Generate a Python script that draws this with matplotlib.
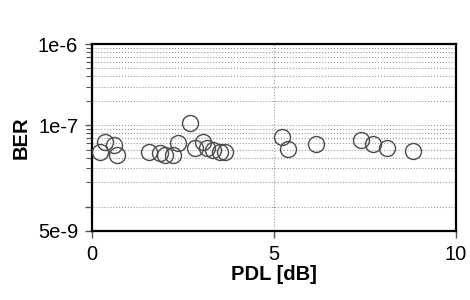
import numpy as np
import matplotlib.pyplot as plt
from matplotlib.ticker import FixedLocator, NullFormatter

plt.rcParams['font.family'] = ['Liberation Sans', 'DejaVu Sans']

# measured points
pdl = [0.22, 0.36, 0.59, 0.68, 1.55, 1.87, 2.01, 2.23, 2.37, 2.69, 2.83, 3.06,
       3.15, 3.33, 3.52, 3.65, 5.21, 5.39, 6.15, 7.39, 7.73, 8.10, 8.83]
ber = [4.73e-8, 6.28e-8, 5.73e-8, 4.31e-8, 4.73e-8, 4.53e-8, 4.31e-8, 4.31e-8,
       6.01e-8, 1.06e-7, 5.21e-8, 6.28e-8, 5.21e-8, 4.97e-8, 4.73e-8, 4.73e-8,
       7.24e-8, 5.07e-8, 5.89e-8, 6.59e-8, 5.89e-8, 5.21e-8, 4.87e-8]

x_ticks = [0, 5, 10]
y_major = [1e-6, 1e-7, 1e-8, 5e-9]
y_labels = ['1e-6', '1e-7', '', '5e-9']
y_minor = [k * 1e-7 for k in range(2, 10)] + [k * 1e-8 for k in range(2, 10)]

fig = plt.figure(figsize=(4.7, 3.0), dpi=100)
ax = fig.add_axes([0.196, 0.23, 0.774, 0.6233])

ax.plot(pdl, ber, 'o', markersize=11.5, markerfacecolor='none',
        markeredgecolor='#4a4a4a', markeredgewidth=1.0, zorder=3)

ax.set_yscale('log')
ax.set_xlim(0, 10)
ax.set_ylim(5e-9, 1e-6)

ax.yaxis.set_major_locator(FixedLocator(y_major))
ax.set_yticklabels(y_labels)
ax.yaxis.set_minor_locator(FixedLocator(y_minor))
ax.yaxis.set_minor_formatter(NullFormatter())
ax.set_xticks(x_ticks)

ax.grid(True, which='both', axis='y', linestyle=':', color='#999999', linewidth=0.8)
ax.grid(True, which='major', axis='x', linestyle=':', color='#999999', linewidth=0.8)

ax.tick_params(axis='both', which='major', labelsize=14.5, length=5, width=1,
               color='#555555', pad=5)
ax.tick_params(axis='y', which='minor', length=4, width=0.8, color='#555555')

for s in ax.spines.values():
    s.set_linewidth(1.6)
    s.set_color('black')

ax.set_xlabel('PDL [dB]', fontsize=14.5, fontweight='bold', labelpad=1)
ax.set_ylabel('BER', fontsize=14.5, fontweight='bold', labelpad=5)

fig.savefig('out.png', dpi=100)
